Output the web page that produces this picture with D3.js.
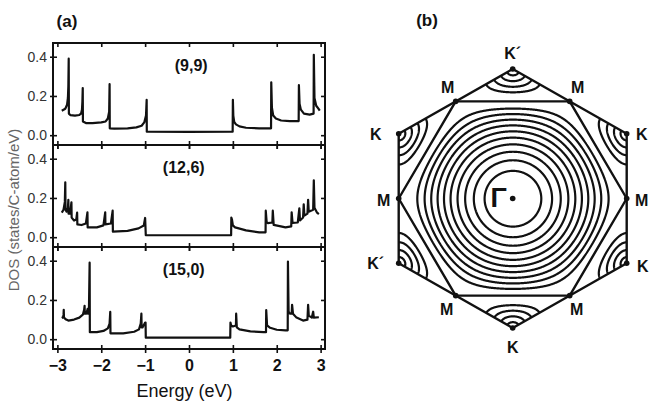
<!DOCTYPE html>
<html>
<head>
<meta charset="utf-8">
<script src="https://cdn.jsdelivr.net/npm/d3@7"></script>
<style>
  body { margin: 0; background: #fff; }
  svg { display: block; }
  text { font-family: "Liberation Sans", Arial, sans-serif; }
</style>
</head>
<body>
<svg id="fig" width="652" height="407"></svg>
<script>
// ---- (a) density of states of three nanotubes ----
const energyTicks = [-3, -2, -1, 0, 1, 2, 3];
const dosTicks = [0, 0.2, 0.4];
const tubeLabels = ["(9,9)", "(12,6)", "(15,0)"];
const tubeLabelAt = [0.05, -0.12, -0.12];

// [energy (eV), DOS (states/C-atom/eV)]
const dos99 = [
  [-2.90, 0.125], [-2.82, 0.135], [-2.78, 0.155], [-2.76, 0.19], [-2.75, 0.25], [-2.742, 0.39],
  [-2.738, 0.11], [-2.70, 0.102], [-2.60, 0.100], [-2.50, 0.103], [-2.46, 0.11], [-2.44, 0.13],
  [-2.43, 0.17], [-2.422, 0.24], [-2.418, 0.07], [-2.35, 0.062], [-2.2, 0.062], [-2.0, 0.065],
  [-1.90, 0.07], [-1.85, 0.085], [-1.82, 0.12], [-1.81, 0.26], [-1.806, 0.035], [-1.7, 0.033],
  [-1.4, 0.035], [-1.2, 0.04], [-1.08, 0.048], [-1.02, 0.065], [-0.98, 0.10], [-0.965, 0.18],
  [-0.962, 0.018], [0, 0.017], [0.995, 0.018], [1.0, 0.18], [1.01, 0.10], [1.03, 0.068],
  [1.07, 0.055], [1.15, 0.045], [1.3, 0.038], [1.6, 0.035], [1.87, 0.035], [1.875, 0.27],
  [1.89, 0.14], [1.92, 0.10], [1.98, 0.085], [2.1, 0.075], [2.3, 0.072], [2.50, 0.072],
  [2.505, 0.255], [2.52, 0.16], [2.55, 0.13], [2.62, 0.11], [2.75, 0.105], [2.84, 0.11],
  [2.845, 0.41], [2.86, 0.19], [2.9, 0.15], [2.95, 0.135], [2.98, 0.125]
];
const dos126 = [
  [-2.90, 0.125], [-2.86, 0.14], [-2.83, 0.18], [-2.82, 0.28], [-2.815, 0.14], [-2.79, 0.13],
  [-2.76, 0.15], [-2.75, 0.19], [-2.745, 0.12], [-2.71, 0.12], [-2.68, 0.178], [-2.675, 0.10],
  [-2.62, 0.085], [-2.57, 0.09], [-2.55, 0.125], [-2.545, 0.065], [-2.45, 0.062], [-2.35, 0.07],
  [-2.315, 0.127], [-2.31, 0.05], [-2.1, 0.05], [-1.95, 0.06], [-1.91, 0.127], [-1.905, 0.065],
  [-1.78, 0.07], [-1.74, 0.135], [-1.735, 0.028], [-1.4, 0.032], [-1.15, 0.045], [-1.03, 0.06],
  [-1.0, 0.098], [-0.985, 0.01], [0, 0.01], [0.96, 0.01], [0.965, 0.10], [0.98, 0.09],
  [1.0, 0.06], [1.05, 0.05], [1.3, 0.035], [1.6, 0.025], [1.745, 0.025], [1.75, 0.135],
  [1.77, 0.077], [1.80, 0.072], [1.90, 0.075], [1.91, 0.135], [1.93, 0.063], [2.2, 0.05],
  [2.33, 0.055], [2.34, 0.127], [2.36, 0.073], [2.48, 0.075], [2.515, 0.147], [2.53, 0.085],
  [2.60, 0.10], [2.615, 0.168], [2.63, 0.11], [2.70, 0.12], [2.715, 0.19], [2.73, 0.13],
  [2.83, 0.14], [2.845, 0.29], [2.86, 0.15], [2.92, 0.125], [2.96, 0.118]
];
const dos150 = [
  [-2.90, 0.108], [-2.87, 0.112], [-2.86, 0.125], [-2.855, 0.15], [-2.85, 0.11], [-2.80, 0.10],
  [-2.75, 0.095], [-2.62, 0.10], [-2.5, 0.11], [-2.42, 0.125], [-2.39, 0.15], [-2.38, 0.17],
  [-2.375, 0.13], [-2.34, 0.13], [-2.31, 0.155], [-2.305, 0.13], [-2.28, 0.16], [-2.265, 0.39],
  [-2.26, 0.036], [-2.1, 0.036], [-1.95, 0.042], [-1.85, 0.055], [-1.81, 0.08], [-1.795, 0.139],
  [-1.79, 0.03], [-1.5, 0.03], [-1.25, 0.038], [-1.14, 0.05], [-1.10, 0.08], [-1.085, 0.13],
  [-1.08, 0.06], [-1.06, 0.06], [-1.0, 0.085], [-0.99, 0.085], [-0.985, 0.008], [0, 0.008],
  [0.94, 0.008], [0.945, 0.085], [0.96, 0.07], [1.0, 0.065], [1.07, 0.07], [1.075, 0.13],
  [1.09, 0.06], [1.15, 0.05], [1.4, 0.04], [1.7, 0.036], [1.755, 0.036], [1.76, 0.148],
  [1.78, 0.07], [1.85, 0.058], [2.0, 0.048], [2.2, 0.045], [2.25, 0.045], [2.255, 0.396],
  [2.27, 0.14], [2.30, 0.13], [2.34, 0.13], [2.35, 0.175], [2.37, 0.13], [2.45, 0.11],
  [2.6, 0.095], [2.70, 0.10], [2.715, 0.175], [2.73, 0.12], [2.80, 0.11], [2.83, 0.14],
  [2.845, 0.11], [2.96, 0.112]
];
const dosSeries = [dos99, dos126, dos150];

// ---- (b) graphene energy contours in the first Brillouin zone ----
// energies (in units of the hopping integral) of the drawn contour lines
const gammaLevels = [2.8, 2.625, 2.45, 2.275, 2.1, 1.925, 1.75, 1.575, 1.4, 1.225];
const kLevels = [0.175, 0.35, 0.525, 0.7];
// zone corners (K, K') and edge centres (M), wavevectors in units of 1/a
const cornerPoints = [
  { k: [0, 4 * Math.PI / 3], label: "K\u00b4" },
  { k: [2 * Math.PI / Math.sqrt(3), 2 * Math.PI / 3], label: "K" },
  { k: [2 * Math.PI / Math.sqrt(3), -2 * Math.PI / 3], label: "K" },
  { k: [0, -4 * Math.PI / 3], label: "K" },
  { k: [-2 * Math.PI / Math.sqrt(3), -2 * Math.PI / 3], label: "K\u00b4" },
  { k: [-2 * Math.PI / Math.sqrt(3), 2 * Math.PI / 3], label: "K" }
];
const edgePoints = [
  { k: [Math.PI / Math.sqrt(3), Math.PI], label: "M" },
  { k: [2 * Math.PI / Math.sqrt(3), 0], label: "M" },
  { k: [Math.PI / Math.sqrt(3), -Math.PI], label: "M" },
  { k: [-Math.PI / Math.sqrt(3), -Math.PI], label: "M" },
  { k: [-2 * Math.PI / Math.sqrt(3), 0], label: "M" },
  { k: [-Math.PI / Math.sqrt(3), Math.PI], label: "M" }
];
// nearest-neighbour lattice vectors of the honeycomb lattice
const latticeVectors = [[0, 1], [Math.sqrt(3) / 2, 0.5], [Math.sqrt(3) / 2, -0.5]];

const svg = d3.select("#fig");
const ink = "#111";

// ---------------- panel (a) ----------------
const x = d3.scaleLinear().domain([-3.1, 3.1]).range([53, 325]);
const panelTops = [43, 145, 247];
const panelH = 102;

svg.append("text").attr("x", 67).attr("y", 27).attr("text-anchor", "middle")
  .attr("font-size", 17).attr("font-weight", "bold").attr("fill", ink).text("(a)");

const line = d3.line();

panelTops.forEach((top, i) => {
  const y = d3.scaleLinear().domain([-0.05, 0.47]).range([top + panelH, top]);
  const g = svg.append("g");

  // frame
  g.append("rect").attr("x", x.range()[0]).attr("y", top)
    .attr("width", x.range()[1] - x.range()[0]).attr("height", panelH)
    .attr("fill", "none").attr("stroke", ink).attr("stroke-width", 2);

  // energy ticks crossing the lower edge, inward ticks on the upper edge
  g.append("g").attr("transform", `translate(0,${top + panelH})`)
    .call(d3.axisBottom(x).tickValues(energyTicks).tickSize(4).tickFormat(""));
  g.append("g").attr("transform", `translate(0,${top + panelH})`)
    .call(d3.axisTop(x).tickValues(energyTicks).tickSize(4).tickFormat(""));
  g.append("g").attr("transform", `translate(0,${top})`)
    .call(d3.axisBottom(x).tickValues(energyTicks).tickSize(4).tickFormat(""));

  // DOS ticks with labels on the left, inward ticks on the right
  g.append("g").attr("transform", `translate(${x.range()[0]},0)`)
    .call(d3.axisLeft(y).tickValues(dosTicks).tickSize(3).tickPadding(3).tickFormat(d3.format(".1f")))
    .call(s => s.selectAll("text").attr("font-size", 14).attr("fill", "#333")
      .attr("font-family", "Liberation Sans, Arial, sans-serif"));
  g.append("g").attr("transform", `translate(${x.range()[0]},0)`)
    .call(d3.axisRight(y).tickValues(dosTicks).tickSize(4).tickFormat(""));
  g.append("g").attr("transform", `translate(${x.range()[1]},0)`)
    .call(d3.axisLeft(y).tickValues(dosTicks).tickSize(4).tickFormat(""));

  g.selectAll(".domain").remove();
  g.selectAll(".tick line").attr("stroke", ink).attr("stroke-width", 1.6);

  // DOS curve
  g.append("path").datum(dosSeries[i])
    .attr("d", line.x(d => x(d[0])).y(d => y(d[1])))
    .attr("fill", "none").attr("stroke", ink).attr("stroke-width", 2.2)
    .attr("stroke-linejoin", "round");

  g.append("text").attr("x", x(tubeLabelAt[i])).attr("y", top + 28).attr("text-anchor", "middle")
    .attr("font-size", 16).attr("font-weight", "bold").attr("fill", ink).text(tubeLabels[i]);
});

// energy tick labels and axis title
const bottom = panelTops[2] + panelH;
svg.append("g").attr("transform", `translate(0,${bottom})`)
  .call(d3.axisBottom(x).tickValues(energyTicks).tickSize(0).tickPadding(11).tickFormat(d3.format("d")))
  .call(s => s.select(".domain").remove())
  .call(s => s.selectAll("text").attr("font-size", 16).attr("font-weight", "bold")
    .attr("fill", ink).attr("font-family", "Liberation Sans, Arial, sans-serif"));

svg.append("text").attr("x", x(-0.1)).attr("y", 397).attr("text-anchor", "middle")
  .attr("font-size", 18).attr("fill", ink).text("Energy (eV)");

svg.append("text").attr("transform", "translate(19,210) rotate(-90)")
  .attr("text-anchor", "middle").attr("font-size", 15).attr("fill", "#666")
  .text("DOS (states/C-atom/eV)");

// ---------------- panel (b) ----------------
const cx = 512.7, cy = 198.5;
const kx = d3.scaleLinear().domain([-2 * Math.PI / Math.sqrt(3), 2 * Math.PI / Math.sqrt(3)]).range([cx - 114, cx + 114]);
const ky = d3.scaleLinear().domain([-4 * Math.PI / 3, 4 * Math.PI / 3]).range([cy + 129.5, cy - 129.5]);

svg.append("text").attr("x", 427).attr("y", 26).attr("text-anchor", "middle")
  .attr("font-size", 17).attr("font-weight", "bold").attr("fill", ink).text("(b)");

// band energy |1 + e^{ik.a1} + e^{ik.a2}| sampled on a pixel grid
const step = 0.5;
const gx0 = cx - 130, gy0 = cy - 140;
const nx = Math.round(260 / step), ny = Math.round(280 / step);
const field = new Float64Array(nx * ny);
for (let j = 0; j < ny; j++) {
  for (let i = 0; i < nx; i++) {
    const qx = kx.invert(gx0 + i * step), qy = ky.invert(gy0 + j * step);
    let s = 3;
    latticeVectors.forEach(a => { s += 2 * Math.cos(qx * a[0] + qy * a[1]); });
    field[j * nx + i] = Math.sqrt(Math.max(0, s));
  }
}
const toPx = d3.geoTransform({
  point(px, py) { this.stream.point(gx0 + px * step, gy0 + py * step); }
});
const contourPath = d3.geoPath(toPx);

const hexPts = cornerPoints.map(p => [kx(p.k[0]), ky(p.k[1])]);
const midPts = edgePoints.map(p => [kx(p.k[0]), ky(p.k[1])]);

svg.append("clipPath").attr("id", "bz")
  .append("polygon").attr("points", hexPts.map(p => p.join(",")).join(" "));

const contourGen = d3.contours().size([nx, ny]).thresholds(gammaLevels.concat(kLevels));
svg.append("g").attr("clip-path", "url(#bz)")
  .selectAll("path").data(contourGen(field)).join("path")
  .attr("d", contourPath)
  .attr("fill", "none").attr("stroke", ink).attr("stroke-width", 2.2)
  .attr("stroke-linejoin", "round");

// zone boundary and the E = 1 lines joining the M points
svg.append("polygon").attr("points", hexPts.map(p => p.join(",")).join(" "))
  .attr("fill", "none").attr("stroke", ink).attr("stroke-width", 2.4).attr("stroke-linejoin", "round");
svg.append("polygon").attr("points", midPts.map(p => p.join(",")).join(" "))
  .attr("fill", "none").attr("stroke", ink).attr("stroke-width", 2.4).attr("stroke-linejoin", "round");

// symmetry points
svg.append("g").selectAll("circle").data(hexPts.concat(midPts, [[cx, cy]])).join("circle")
  .attr("cx", d => d[0]).attr("cy", d => d[1]).attr("r", 2.8).attr("fill", ink);

const kOffsets = [[0, -16], [15, 0], [16, 3], [0, 19], [-23, 0], [-23, 0]];
svg.append("g").selectAll("text").data(cornerPoints).join("text")
  .attr("x", (d, i) => hexPts[i][0] + kOffsets[i][0])
  .attr("y", (d, i) => hexPts[i][1] + kOffsets[i][1] + 6)
  .attr("text-anchor", "middle").attr("font-size", 16).attr("font-weight", "bold")
  .attr("fill", ink).text(d => d.label);
const mOffsets = [[8, -14], [15, 1], [7, 13], [-9, 13], [-15, 1], [-8, -14]];
svg.append("g").selectAll("text").data(edgePoints).join("text")
  .attr("x", (d, i) => midPts[i][0] + mOffsets[i][0])
  .attr("y", (d, i) => midPts[i][1] + mOffsets[i][1] + 6)
  .attr("text-anchor", "middle").attr("font-size", 16).attr("font-weight", "bold")
  .attr("fill", ink).text(d => d.label);

svg.append("text").attr("x", cx - 14).attr("y", cy + 8).attr("text-anchor", "middle")
  .attr("font-family", "Liberation Serif, serif").attr("font-size", 27).attr("font-weight", "bold")
  .attr("fill", ink).text("\u0393");
</script>
</body>
</html>
